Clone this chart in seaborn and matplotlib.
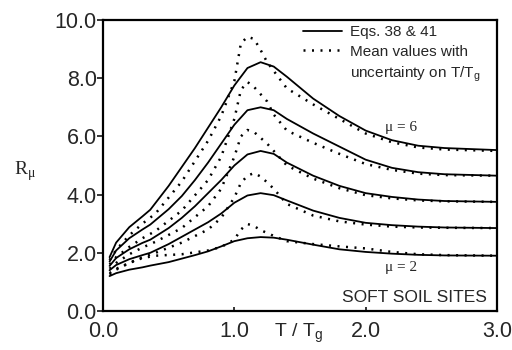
import matplotlib
matplotlib.use("Agg")
import matplotlib.pyplot as plt
from matplotlib.lines import Line2D
import seaborn as sns
import pandas as pd

# ---- data ----
t_solid = [0.05, 0.1, 0.2, 0.3, 0.36, 0.5, 0.6, 0.7, 0.8, 0.9, 1.0, 1.1, 1.2,
           1.3, 1.4, 1.6, 1.8, 2.0, 2.2, 2.4, 2.6, 3.0]
solid_mu2 = [1.2, 1.3, 1.42, 1.5, 1.56, 1.68, 1.8, 1.92, 2.05, 2.22, 2.4, 2.5, 2.54,
             2.52, 2.45, 2.28, 2.12, 2.03, 1.97, 1.93, 1.91, 1.9]
solid_mu3 = [1.4, 1.58, 1.78, 1.92, 2.0, 2.3, 2.55, 2.8, 3.05, 3.35, 3.72, 3.97, 4.05,
             3.98, 3.8, 3.45, 3.2, 3.03, 2.95, 2.9, 2.87, 2.85]
solid_mu4 = [1.55, 1.82, 2.12, 2.34, 2.45, 2.85, 3.2, 3.6, 4.05, 4.5, 5.0, 5.38, 5.5,
             5.4, 5.1, 4.65, 4.3, 4.05, 3.92, 3.83, 3.78, 3.75]
solid_mu5 = [1.7, 2.08, 2.5, 2.8, 2.97, 3.5, 3.95, 4.5, 5.1, 5.75, 6.4, 6.9, 7.0,
             6.9, 6.6, 6.1, 5.65, 5.2, 4.92, 4.77, 4.7, 4.65]
solid_mu6 = [1.85, 2.35, 2.88, 3.25, 3.48, 4.3, 4.95, 5.6, 6.3, 7.0, 7.75, 8.35, 8.55,
             8.4, 8.05, 7.3, 6.7, 6.2, 5.87, 5.68, 5.6, 5.53]

t_dot = [0.05, 0.1, 0.2, 0.3, 0.4, 0.6, 0.8, 0.9, 1.0, 1.05, 1.1, 1.15, 1.2, 1.25,
         1.3, 1.4, 1.6, 1.8, 2.0, 2.2, 2.4, 2.6, 3.0]
dot_mu2 = [1.25, 1.42, 1.65, 1.82, 1.9, 1.95, 2.08, 2.2, 2.45, 2.8, 2.99, 2.92, 2.78, 2.68,
           2.58, 2.4, 2.3, 2.22, 2.15, 2.03, 1.95, 1.92, 1.9]
dot_mu3 = [1.3, 1.45, 1.65, 1.85, 2.0, 2.35, 2.8, 3.2, 3.9, 4.4, 4.65, 4.74, 4.62, 4.42,
           4.2, 3.68, 3.28, 3.08, 2.97, 2.9, 2.87, 2.86, 2.85]
dot_mu4 = [1.45, 1.65, 1.95, 2.18, 2.38, 2.85, 3.6, 4.2, 5.3, 6.0, 6.22, 6.15, 5.95, 5.75,
           5.5, 5.0, 4.55, 4.22, 3.98, 3.87, 3.8, 3.77, 3.75]
dot_mu5 = [1.6, 1.85, 2.2, 2.5, 2.75, 3.45, 4.5, 5.3, 6.6, 7.6, 7.87, 7.7, 7.45, 7.2,
           6.75, 6.2, 5.78, 5.4, 5.05, 4.85, 4.72, 4.67, 4.65]
dot_mu6 = [1.75, 2.1, 2.6, 3.0, 3.35, 4.45, 5.85, 6.7, 7.9, 9.2, 9.42, 9.35, 8.97, 8.55,
           8.25, 7.65, 7.1, 6.6, 6.1, 5.8, 5.62, 5.55, 5.5]

x_ticks = [0, 1, 2, 3]
x_ticklabels = ["0.0", "1.0", "2.0", "3.0"]
y_ticks = [0, 2, 4, 6, 8, 10]
y_ticklabels = ["0.0", "2.0", "4.0", "6.0", "8.0", "10.0"]

legend_labels = ["Eqs. 38 & 41", "Mean values with",
                 "uncertainty on T/T$_\\mathregular{g}$"]

# ---- build long table ----
rows = []
for mu, vals in zip([2, 3, 4, 5, 6], [solid_mu2, solid_mu3, solid_mu4, solid_mu5, solid_mu6]):
    for t, r in zip(t_solid, vals):
        rows.append(dict(T=t, R=r, mu=mu, kind="eq"))
for mu, vals in zip([2, 3, 4, 5, 6], [dot_mu2, dot_mu3, dot_mu4, dot_mu5, dot_mu6]):
    for t, r in zip(t_dot, vals):
        rows.append(dict(T=t, R=r, mu=mu, kind="mean"))
df = pd.DataFrame(rows)

sns.set_style("ticks")
plt.rcParams["font.family"] = ["Liberation Sans", "DejaVu Sans"]

fig = plt.figure(figsize=(5.12, 3.5), dpi=100)
ax = fig.add_axes([103 / 512, 1 - 311 / 350, (497 - 103) / 512, (311 - 20) / 350])

dotted = (0, (0.8, 2.6))
for mu in [2, 3, 4, 5, 6]:
    d = df[(df.mu == mu) & (df.kind == "eq")]
    sns.lineplot(data=d, x="T", y="R", ax=ax, color="black", lw=1.3, sort=True,
                 estimator=None)
    d = df[(df.mu == mu) & (df.kind == "mean")]
    sns.lineplot(data=d, x="T", y="R", ax=ax, color="black", lw=1.8, sort=True,
                 estimator=None, linestyle=dotted)

ax.set_xlim(0, 3)
ax.set_ylim(0, 10)
ax.set_xticks(x_ticks)
ax.set_xticklabels(x_ticklabels)
ax.set_yticks(y_ticks)
ax.set_yticklabels(y_ticklabels)
ax.set_xlabel("")
ax.set_ylabel("")
ax.tick_params(axis="y", direction="out", length=4, width=1.3, pad=0.5,
               labelsize=15.5)
ax.tick_params(axis="x", direction="in", length=3, width=1.3, pad=7,
               labelsize=15.5)
for s in ax.spines.values():
    s.set_linewidth(1.6)
    s.set_color("black")

# legend (third row is a text-only continuation of the second label)
handles = [Line2D([], [], color="black", lw=1.3),
           Line2D([], [], color="black", lw=1.8, linestyle=dotted),
           Line2D([], [], color="none", lw=0)]
leg = ax.legend(handles, legend_labels, loc="upper right", frameon=False,
                fontsize=11, handlelength=2.6, handletextpad=0.5,
                labelspacing=0.38, bbox_to_anchor=(0.985, 1.02), borderaxespad=0.3)

# annotations
ax.text(2.15, 6.3, "\u03bc = 6", fontsize=11, family="Liberation Serif", va="center")
ax.text(2.15, 1.5, "\u03bc = 2", fontsize=11, family="Liberation Serif", va="center")
ax.text(2.92, 0.47, "SOFT SOIL SITES", fontsize=12.5, ha="right", va="center")
ax.text(1.3, -0.75, "T / T$_\\mathregular{g}$", fontsize=14, ha="left", va="center",
        transform=ax.transData, clip_on=False)
fig.text(25 / 512, 1 - 171 / 350, "R$_\\mathregular{\u03bc}$", fontsize=14,
         family="Liberation Serif", ha="center", va="center")

fig.savefig("out.png", dpi=100)
